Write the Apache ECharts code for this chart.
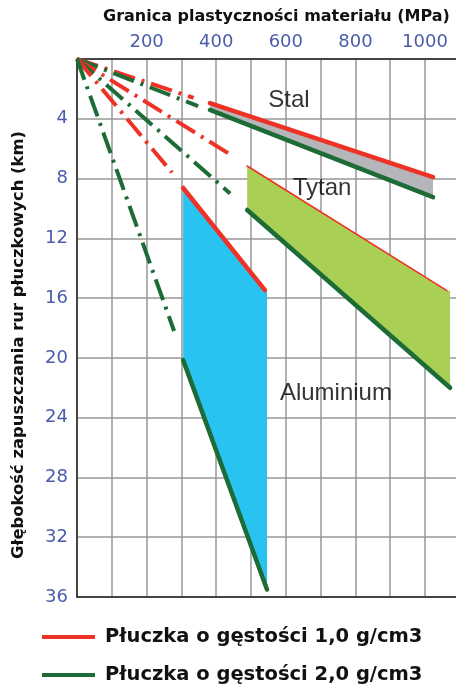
<!DOCTYPE html>
<html><head><meta charset="utf-8">
<script src="https://cdn.jsdelivr.net/npm/echarts@6/dist/echarts.min.js"></script>
<style>html,body{margin:0;padding:0;background:#fff}#c{width:456px;height:690px}</style>
</head><body><div id="c"></div>
<script>
// ---- data ----
const materials = ['Stal', 'Tytan', 'Aluminium'];
const strengthMin = [382, 489, 305];            // MPa, start of solid segments
const strengthMaxRed = [1023, 1063, 540];       // MPa, end of red solid
const strengthMaxGreen = [1023, 1072, 546];     // MPa, end of green solid
const depthRedAtMin = [2.95, 7.16, 8.63];       // km
const depthRedAtMax = [7.9, 15.5, 15.46];
const depthGreenAtMin = [3.41, 10.1, 20.15];
const depthGreenAtMax = [9.24, 22.0, 35.5];
const dashEndRed = [335, 434, 273];             // MPa, end of red dash-dot from origin
const dashDepthRed = [2.6, 6.3, 7.6];
const dashEndGreen = [348, 440, 279];
const dashDepthGreen = [3.15, 9.0, 18.2];
const xTickLabels = [200, 400, 600, 800, 1000];
const yTickLabels = [4, 8, 12, 16, 20, 24, 28, 32, 36];
const legendNames = ['Płuczka o gęstości 1,0 g/cm3', 'Płuczka o gęstości 2,0 g/cm3'];
const materialLabelAt = [[609, 2.74], [704, 8.63], [744, 22.4]];

// ---- styles ----
const RED = '#ee3326', GREEN = '#1d6b36';
const fillColors = ['#b4b6b9', '#a9d054', '#29c3f1'];
const redSolidWidth = [4.5, 1.6, 4.5];
const dashPattern = [22, 7, 3, 7];
const tickColor = '#4a5cab';

const chart = echarts.init(document.getElementById('c'), null, {renderer: 'canvas'});

const series = [];
// fills (custom polygons)
materials.forEach((m, i) => {
  const pts = [
    [strengthMin[i], depthRedAtMin[i]],
    [strengthMaxRed[i], depthRedAtMax[i]],
    [strengthMaxGreen[i], depthRedAtMax[i]],
    [strengthMaxGreen[i], depthGreenAtMax[i]],
    [strengthMin[i], depthGreenAtMin[i]]
  ];
  series.push({
    type: 'custom', coordinateSystem: 'cartesian2d', silent: true, z: 1,
    data: [pts[0]],
    renderItem: (params, api) => ({
      type: 'polygon',
      shape: {points: pts.map(p => api.coord(p))},
      style: {fill: fillColors[i]}
    })
  });
});
// solid red
materials.forEach((m, i) => {
  series.push({
    name: legendNames[0], type: 'line', symbol: 'none', z: 4, color: RED,
    lineStyle: {color: RED, width: redSolidWidth[i], cap: 'round'},
    data: [[strengthMin[i], depthRedAtMin[i]], [strengthMaxRed[i], depthRedAtMax[i]]]
  });
});
// solid green
materials.forEach((m, i) => {
  series.push({
    name: legendNames[1], type: 'line', symbol: 'none', z: 4, color: GREEN,
    lineStyle: {color: GREEN, width: 4.5, cap: 'round'},
    data: [[strengthMin[i], depthGreenAtMin[i]], [strengthMaxGreen[i], depthGreenAtMax[i]]]
  });
});
// dash-dot lines from origin
materials.forEach((m, i) => {
  series.push({
    name: legendNames[0], type: 'line', symbol: 'none', z: 3, color: RED,
    lineStyle: {color: RED, width: 4, type: dashPattern},
    data: [[0, 0], [dashEndRed[i], dashDepthRed[i]]]
  });
  series.push({
    name: legendNames[1], type: 'line', symbol: 'none', z: 3, color: GREEN,
    lineStyle: {color: GREEN, width: 4, type: dashPattern},
    data: [[0, 0], [dashEndGreen[i], dashDepthGreen[i]]]
  });
});
// material names
series.push({
  type: 'scatter', symbolSize: 0, z: 5, silent: true,
  data: materials.map((m, i) => ({value: materialLabelAt[i], name: m})),
  label: {
    show: true, position: 'inside', formatter: p => p.name,
    fontFamily: 'Liberation Sans', fontSize: 24, color: '#000'
  }
});

const legendText = {
  fontFamily: 'DejaVu Sans', fontWeight: 'bold', fontSize: 19.5, color: '#111',
  padding: [0, 0, 0, 5]
};

chart.setOption({
  animation: false,
  backgroundColor: '#fff',
  grid: {left: 77, top: 59, right: 0, bottom: 93},
  xAxis: [{
    type: 'value', position: 'top', min: 0, max: 1089, interval: 100,
    axisLine: {show: true, lineStyle: {color: '#222', width: 1.5}},
    axisTick: {show: false},
    splitLine: {show: true, showMaxLine: false, lineStyle: {color: '#979797', width: 1.5}},
    axisLabel: {
      margin: 8, color: tickColor, fontFamily: 'DejaVu Sans', fontSize: 18,
      showMaxLabel: false,
      formatter: v => xTickLabels.includes(v) ? String(v) : ''
    }
  }, {
    type: 'value', position: 'bottom', min: 0, max: 1089, interval: 100,
    axisLine: {show: true, onZero: false, lineStyle: {color: '#222', width: 1.5}},
    axisTick: {show: false}, axisLabel: {show: false}, splitLine: {show: false}
  }],
  yAxis: {
    type: 'value', inverse: true, min: 0, max: 36, interval: 4,
    axisLine: {show: true, lineStyle: {color: '#222', width: 1.5}},
    axisTick: {show: false},
    splitLine: {show: true, lineStyle: {color: '#979797', width: 1.5}},
    axisLabel: {
      margin: 9, color: tickColor, fontFamily: 'DejaVu Sans', fontSize: 18,
      formatter: v => yTickLabels.includes(v) ? String(v) : ''
    }
  },
  legend: [{
    left: 37, top: 622, icon: 'rect', itemWidth: 53, itemHeight: 4,
    selectedMode: false, data: [legendNames[0]], textStyle: legendText
  }, {
    left: 37, top: 660, icon: 'rect', itemWidth: 53, itemHeight: 4,
    selectedMode: false, data: [legendNames[1]], textStyle: legendText
  }],
  graphic: [{
    type: 'text', left: 103, top: 9,
    style: {text: 'Granica plastyczności materiału (MPa)', fontFamily: 'DejaVu Sans',
      fontWeight: 'bold', fontSize: 16, fill: '#111'}
  }, {
    type: 'text', x: 19, y: 345, rotation: Math.PI / 2,
    style: {text: 'Głębokość zapuszczania rur płuczkowych (km)', fontFamily: 'DejaVu Sans',
      fontWeight: 'bold', fontSize: 16.4, fill: '#111', align: 'center', verticalAlign: 'middle'}
  }],
  series: series
});
</script></body></html>
